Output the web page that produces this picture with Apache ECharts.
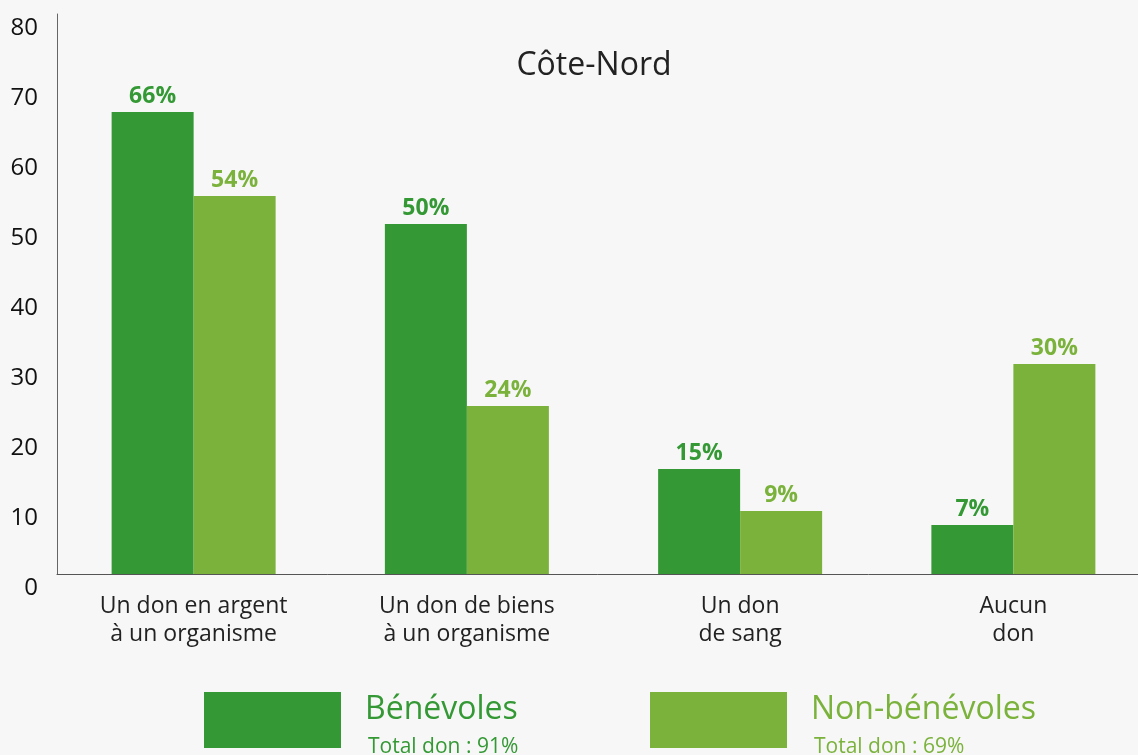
<!DOCTYPE html>
<html>
<head>
<meta charset="utf-8">
<script src="https://cdn.jsdelivr.net/npm/echarts@6/dist/echarts.min.js"></script>
<style>
  html, body { margin: 0; padding: 0; background: #f7f7f7; }
  #main { width: 1138px; height: 755px; }
</style>
</head>
<body>
<div id="main"></div>
<script>
// données du graphique
var categories = ['Un don en argent\nà un organisme', 'Un don de biens\nà un organisme', 'Un don\nde sang', 'Aucun\ndon'];
var benevoles = [66, 50, 15, 7];
var nonBenevoles = [54, 24, 9, 30];
var seriesNames = ['Bénévoles', 'Non-bénévoles'];
var totals = ['Total don : 91%', 'Total don : 69%'];
var yTicks = [0, 80, 10]; // min, max, intervalle

var colors = ['#349935', '#7bb23c'];
var font = '"Open Sans", Lato, sans-serif';

function makeLegend(i, left) {
    return {
        left: left,
        top: 692,
        padding: 0,
        itemWidth: 137,
        itemHeight: 56,
        icon: 'rect',
        selectedMode: false,
        data: [{ name: seriesNames[i] }],
        formatter: function (name) {
            return '{a|' + name + '}\n{b|' + totals[i] + '}';
        },
        textStyle: {
            padding: [16, 0, 0, 19],
            rich: {
                a: { fontSize: 32, lineHeight: 38, color: colors[i], fontFamily: font },
                b: { fontSize: 21, lineHeight: 36, color: colors[i], fontFamily: font, padding: [0, 0, 0, 3] }
            }
        }
    };
}

var myChart = echarts.init(document.getElementById('main'));
var option = {
    backgroundColor: '#f7f7f7',
    animation: false,
    title: {
        text: 'Côte-Nord',
        left: 589,
        textAlign: 'center',
        top: 45,
        textStyle: { fontSize: 32, fontWeight: 'normal', color: '#222', fontFamily: font }
    },
    legend: [makeLegend(0, 204), makeLegend(1, 650)],
    grid: {
        left: 57,
        top: 14,
        width: 1093,
        bottom: 181,
        outerBoundsMode: 'none',
        containLabel: false
    },
    xAxis: {
        type: 'category',
        data: categories,
        axisLine: { lineStyle: { color: '#555', width: 1 } },
        axisTick: { show: false },
        axisLabel: {
            color: '#222',
            fontSize: 23,
            lineHeight: 28,
            margin: 18,
            fontFamily: font,
            interval: 0
        }
    },
    yAxis: {
        type: 'value',
        min: yTicks[0],
        max: yTicks[1],
        interval: yTicks[2],
        splitLine: { show: false },
        axisLine: { show: true, lineStyle: { color: '#666', width: 1 } },
        axisTick: { show: false },
        axisLabel: {
            color: '#111',
            fontSize: 24,
            margin: 19,
            verticalAlign: 'top',
            padding: [2, 0, 0, 0],
            fontFamily: font
        }
    },
    series: [{
        name: seriesNames[0],
        type: 'bar',
        data: benevoles,
        barWidth: 82,
        barGap: '0%',
        itemStyle: { color: colors[0] },
        label: {
            show: true,
            position: 'top',
            distance: 4,
            formatter: '{c}%',
            color: colors[0],
            fontSize: 23,
            fontWeight: 'bold',
            fontFamily: font
        }
    }, {
        name: seriesNames[1],
        type: 'bar',
        data: nonBenevoles,
        barWidth: 82,
        barGap: '0%',
        itemStyle: { color: colors[1] },
        label: {
            show: true,
            position: 'top',
            distance: 4,
            formatter: '{c}%',
            color: colors[1],
            fontSize: 23,
            fontWeight: 'bold',
            fontFamily: font
        }
    }]
};
myChart.setOption(option);
</script>
</body>
</html>
